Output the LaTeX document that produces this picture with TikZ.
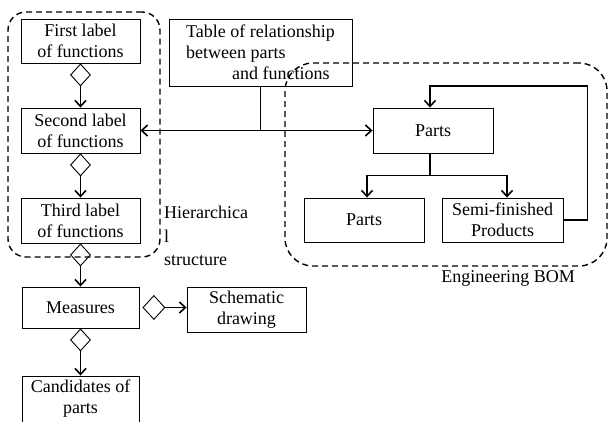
\documentclass[tikz,border=0pt]{standalone}
\usepackage{fontspec}
\setmainfont{Liberation Serif}
\usetikzlibrary{arrows.meta,shapes.geometric}
\begin{document}
\begin{tikzpicture}[x=1pt,y=-1pt,
  every node/.style={font=\fontsize{18}{21}\selectfont},
  box/.style={draw,line width=0.9pt,inner sep=0pt,align=center},
  barb/.tip={Straight Barb[length=6pt,width=11pt]},
  wire/.style={line width=1.6pt},
  link/.style={wire,-barb},
  dlink/.style={wire,barb-barb},
  agg/.style={draw,diamond,line width=0.9pt,inner sep=0pt,
    minimum width=20pt,minimum height=22pt},
  aggh/.style={draw,diamond,line width=0.9pt,inner sep=0pt,
    minimum width=22pt,minimum height=24pt},
  group/.style={draw,line width=1.4pt,dash pattern=on 6pt off 4pt,
    inner sep=0pt},
]
\useasboundingbox (0,0) rectangle (610,421);

% dashed groupings
\node[group,rounded corners=18pt,minimum width=152pt,minimum height=245pt]
  (hier) at (84,134.5) {};
\node[group,rounded corners=28pt,minimum width=322pt,minimum height=203pt]
  (ebom) at (446,164.5) {};

% function hierarchy
\node[box,minimum width=119pt,minimum height=44pt] (f1) at (80.5,41)
  {First label\\of functions};
\node[box,minimum width=119pt,minimum height=45pt] (f2) at (80.5,130.5)
  {Second label\\of functions};
\node[box,minimum width=119pt,minimum height=45pt] (f3) at (80.5,220.5)
  {Third label\\of functions};
\node[box,minimum width=117pt,minimum height=41pt] (meas) at (80.5,307.5)
  {Measures};
\node[box,minimum width=119pt,minimum height=45pt] (schem) at (246.5,309.5)
  {Schematic\\drawing};
\node[box,minimum width=117pt,minimum height=46pt] (cand) at (80.5,399)
  {Candidates of\\parts};

\node[agg,anchor=north] (d1) at (f1.south) {};
\node[agg,anchor=north] (d2) at (f2.south) {};
\node[agg,anchor=north] (d3) at (f3.south) {};
\node[agg,anchor=north] (d4) at (meas.south) {};
\node[aggh,anchor=west] (d5) at ([xshift=3pt]meas.east) {};

\draw[link] (d1.south) -- (f2.north);
\draw[link] (d2.south) -- (f3.north);
\draw[link] (d3.south) -- (d3.south |- meas.north);
\draw[link] (d4.south) -- (d4.south |- cand.north);
\draw[link] (d5.east) -- (d5.east -| schem.west);

% relationship table
\node[draw,line width=0.9pt,inner sep=0pt,minimum width=183pt,minimum height=67pt,
  align=left] (table) at (260.5,52.5)
  {Table of relationship\\between parts\\\hspace*{46pt}and functions};

% engineering BOM
\node[box,minimum width=120pt,minimum height=45pt] (p0) at (433,130.5) {Parts};
\node[box,minimum width=120pt,minimum height=44pt] (p1) at (364,220) {Parts};
\node[box,minimum width=121pt,minimum height=44pt] (semi) at (502.5,220)
  {Semi-finished\\Products};

\draw[dlink] (f2.east) -- (p0.west);
\draw[wire] (table.south) -- (table.south |- p0.west);

\draw[wire] ([xshift=-3pt]p0.south) -- ++(0,22) coordinate (fork);
\draw[link] (fork) -| ([xshift=3pt]p1.north);
\draw[link] (fork) -| ([xshift=4.5pt]semi.north);
\draw[link] (semi.east) -- ++(24,0) -- ++(0,-134) -| ([xshift=-3pt]p0.north);

% group captions
\node[anchor=west,align=left,inner sep=0pt,font=\fontsize{18}{23.5}\selectfont]
  (hierl) at (164,236) {Hierarchica\\l\\structure};
\node[inner sep=0pt] (ebomlabel) at (508,278) {Engineering BOM};
\end{tikzpicture}
\end{document}
